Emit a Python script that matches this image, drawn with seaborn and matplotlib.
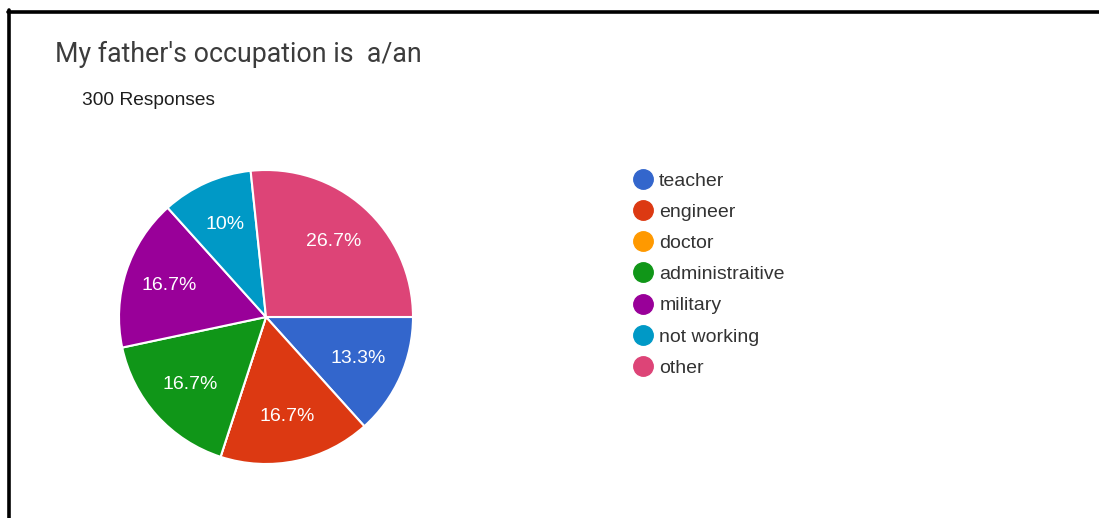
import matplotlib
matplotlib.use("Agg")
import matplotlib.pyplot as plt
from matplotlib.lines import Line2D
import seaborn as sns

# Survey answers (300 responses)
categories = ["teacher", "engineer", "doctor", "administraitive",
              "military", "not working", "other"]
counts = [40, 50, 0, 50, 50, 30, 80]
colors_hex = ["#3366cc", "#dc3912", "#ff9900", "#109618",
              "#990099", "#0099c6", "#dd4477"]
title_text = "My father's occupation is  a/an"
subtitle_text = "300 Responses"

sns.set_theme(style="white")
plt.rcParams["font.family"] = ["Liberation Sans", "DejaVu Sans"]
palette = sns.color_palette(colors_hex)

W, H, DPI = 1099, 518, 100
fig = plt.figure(figsize=(W / DPI, H / DPI), dpi=DPI)
fig.patch.set_facecolor("white")

# square axes for the pie, placed in pixel units
cx, cy, r = 266, 317, 147
ax = fig.add_axes([(cx - r) / W, (H - cy - r) / H, 2 * r / W, 2 * r / H])


def pct_label(p):
    if p < 0.05:
        return ""
    s = f"{p:.1f}"
    if s.endswith(".0"):
        s = s[:-2]
    return s + "%"


wedges, texts, autotexts = ax.pie(
    counts,
    colors=palette,
    startangle=0,
    counterclock=False,
    autopct=pct_label,
    pctdistance=0.69,
    wedgeprops=dict(edgecolor="white", linewidth=1.5),
    textprops=dict(color="white", fontsize=14),
)
ax.set_xlim(-1.0, 1.0)
ax.set_ylim(-1.0, 1.0)
ax.set_aspect("equal")
ax.axis("off")

# legend with round markers
handles = [Line2D([0], [0], marker="o", linestyle="none", markersize=14,
                  markerfacecolor=c, markeredgecolor=c) for c in palette]
leg = fig.legend(handles, categories, loc="upper left",
                 bbox_to_anchor=(631 / W, 1 - 172 / H),
                 frameon=False, fontsize=14, labelspacing=0.70,
                 handletextpad=0.25, handlelength=1.2, borderpad=0,
                 borderaxespad=0)
for t in leg.get_texts():
    t.set_color("#333333")

# title and response count
fig.text(55 / W, 1 - 54 / H, title_text, fontsize=19.3, color="#3c3c3c",
         family=["Roboto", "DejaVu Sans"], va="center", ha="left")
fig.text(82 / W, 1 - 101 / H, subtitle_text, fontsize=13.8, color="#1e1e1e",
         va="center", ha="left")

# frame lines along the top and left edges
fig.add_artist(Line2D([8 / W, 1.0], [1 - 11.5 / H, 1 - 11.5 / H],
                      transform=fig.transFigure, color="black", linewidth=2.6))
fig.add_artist(Line2D([9 / W, 9 / W], [0.0, 1 - 10 / H],
                      transform=fig.transFigure, color="black", linewidth=2.6))

fig.savefig("out.png", dpi=DPI, facecolor="white")
